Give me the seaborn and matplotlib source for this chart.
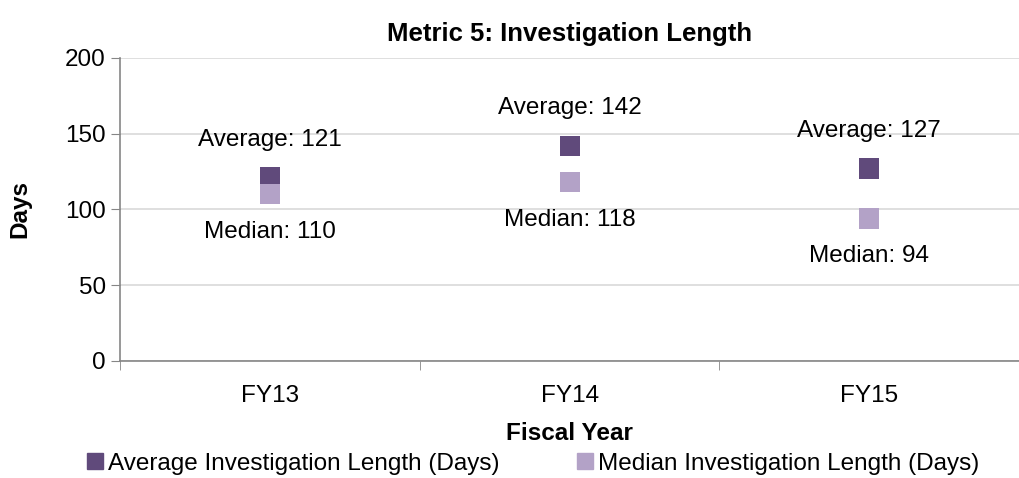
import numpy as np
import pandas as pd
import matplotlib
matplotlib.use('Agg')
import matplotlib.pyplot as plt
import seaborn as sns

# data
years = ['FY13', 'FY14', 'FY15']
avg_days = [121, 142, 127]
median_days = [110, 118, 94]
avg_name = 'Average Investigation Length (Days)'
median_name = 'Median Investigation Length (Days)'

df = pd.DataFrame({
    'year': years * 2,
    'days': avg_days + median_days,
    'series': [avg_name] * 3 + [median_name] * 3,
})

sns.set_style('white')
plt.rcParams['font.family'] = ['Liberation Sans', 'DejaVu Sans']
plt.rcParams['text.color'] = 'black'
plt.rcParams['axes.labelcolor'] = 'black'
plt.rcParams['xtick.color'] = 'black'
plt.rcParams['ytick.color'] = 'black'

fs = 17.5

fig = plt.figure(figsize=(10.19, 4.78), dpi=100)
ax = fig.add_axes([0.118, 0.245, 0.882, 0.634])

colors = {avg_name: '#604a7b', median_name: '#b3a2c7'}
sns.scatterplot(data=df, x='year', y='days', hue='series', palette=colors,
                marker='s', s=210, linewidth=0, ax=ax, legend=False, zorder=3)

ax.set_xlim(-0.5, 2.5)
ax.set_ylim(0, 200)
ax.set_yticks(range(0, 201, 50))
ax.yaxis.grid(True, color='#d9d9d9', lw=1.2)
ax.set_axisbelow(True)

for sp in ['top', 'right']:
    ax.spines[sp].set_visible(False)
for sp in ['left', 'bottom']:
    ax.spines[sp].set_color('#868686')
    ax.spines[sp].set_linewidth(1.2)

# tick marks: y ticks outward, x ticks at category borders
ax.tick_params(axis='y', which='major', length=6.5, color='#868686', labelsize=fs, left=True, pad=4)
ax.set_xticks(range(3))
ax.set_xticklabels(years)
ax.tick_params(axis='x', which='major', length=0, labelsize=fs, pad=17)
ax.set_xticks([-0.5, 0.5, 1.5, 2.5], minor=True)
ax.tick_params(axis='x', which='minor', length=6.5, color='#868686', bottom=True)

for i, y in enumerate(years):
    ax.annotate(f'Average: {avg_days[i]}', (i, avg_days[i]), xytext=(0, 27),
                textcoords='offset points', ha='center', va='center', fontsize=fs)
    ax.annotate(f'Median: {median_days[i]}', (i, median_days[i]), xytext=(0, -27),
                textcoords='offset points', ha='center', va='center', fontsize=fs)

ax.set_title('Metric 5: Investigation Length', fontsize=18.5, fontweight='bold', pad=12)
ax.set_xlabel('Fiscal Year', fontsize=fs, fontweight='bold', labelpad=11)
ax.set_ylabel('Days', fontsize=fs, fontweight='bold', labelpad=24)

handles = [plt.Line2D([], [], marker='s', ls='', markersize=11, color=colors[n]) for n in [avg_name, median_name]]
fig.legend(handles, [avg_name, median_name], loc='lower left', bbox_to_anchor=(0.077, -0.014),
           ncol=2, frameon=False, fontsize=fs, handlelength=0.6, handletextpad=0.2,
           columnspacing=3.25, borderaxespad=0)

fig.savefig('out.png', dpi=100)
